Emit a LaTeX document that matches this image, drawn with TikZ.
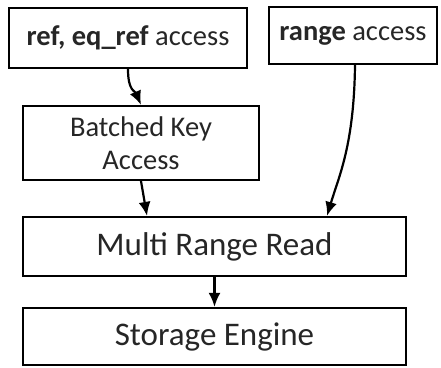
\documentclass[tikz,border=0pt]{standalone}
\usepackage{fontspec}
\setmainfont{Carlito}
\usetikzlibrary{arrows.meta,calc}
\definecolor{txt}{HTML}{262626}
\tikzset{
  box/.style={draw=black, line width=2.2pt, inner sep=0pt, text=txt, align=center},
  conn/.style={line width=2.2pt, -{Latex[length=14pt,width=12pt]}},
}
\begin{document}
\begin{tikzpicture}[x=1pt,y=-1pt]
\useasboundingbox (0,0) rectangle (441,367);
\node[box, minimum width=238pt, minimum height=60pt, font=\fontsize{28.5}{33}\selectfont] (ref) at (128,38) {\textbf{ref, eq\_ref} access};
\node[box, minimum width=168pt, minimum height=57pt, font=\fontsize{28.5}{33}\selectfont] (rng) at (353,35.5) {\textbf{range} access};
\node[box, minimum width=236pt, minimum height=74pt, font=\fontsize{28.5}{33}\selectfont] (bka) at (141,143) {Batched Key\\Access};
\node[box, minimum width=383pt, minimum height=59pt, font=\fontsize{33}{38}\selectfont] (mrr) at (214.5,246.5) {Multi Range Read};
\node[box, minimum width=383pt, minimum height=57pt, font=\fontsize{33}{38}\selectfont] (se) at (214.5,336.5) {Storage Engine};
\coordinate (rngout) at ([xshift=2pt]rng.south);
\coordinate (mrrin1) at ([xshift=-67.5pt]mrr.north);
\coordinate (mrrin2) at ([xshift=112.5pt]mrr.north);
\draw[conn] (ref.south) .. controls ($(ref.south)+(0,22)$) and ($(bka.north)+(-6,-14)$) .. (bka.north);
\draw[conn] (rngout) .. controls ($(rngout)+(-1,80)$) and ($(mrrin2)+(12,-40)$) .. (mrrin2);
\draw[conn] (bka.south) -- (mrrin1);
\draw[conn] (mrr.south) -- (se.north);
\end{tikzpicture}
\end{document}
